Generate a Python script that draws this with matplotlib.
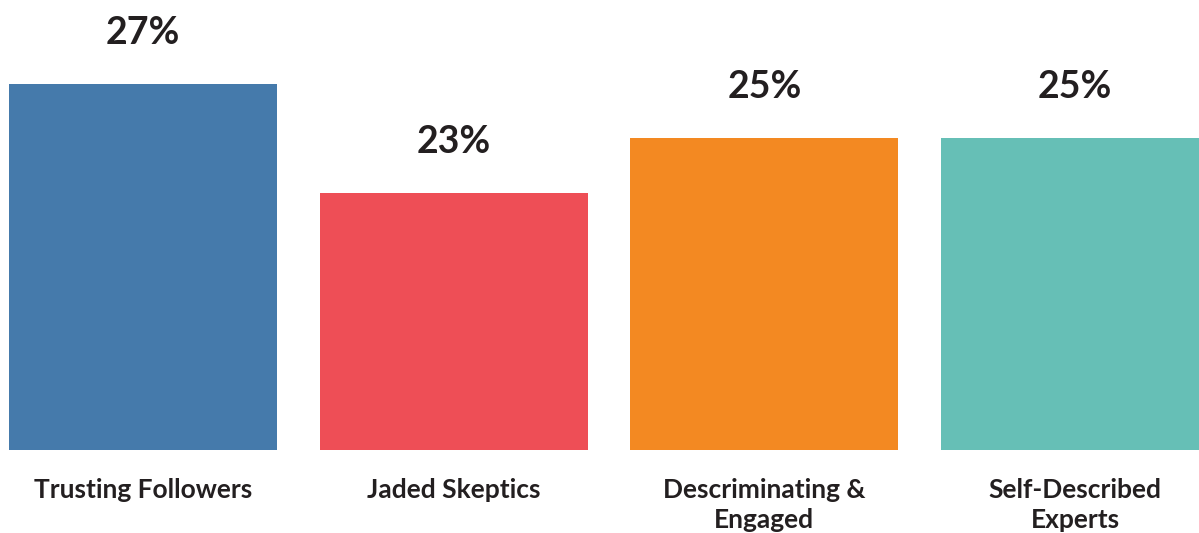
import matplotlib.pyplot as plt

# --- data ---
categories = ['Trusting Followers', 'Jaded Skeptics', 'Descriminating &\nEngaged', 'Self-Described\nExperts']
values = [27, 23, 25, 25]
colors = ['#457AAB', '#EE4E56', '#F38922', '#66BFB6']

text_color = '#231F20'
baseline = 13.56  # the original chart's bars start well above zero

fig = plt.figure(figsize=(11.99, 5.33), dpi=100)
ax = fig.add_axes([0, 0, 1, 1])

x = list(range(len(categories)))
heights = [v - baseline for v in values]
ax.bar(x, heights, bottom=baseline, width=0.8626, color=colors)

for xi, v, cat in zip(x, values, categories):
    ax.annotate(f'{v}%', (xi, v), xytext=(0, 37), textcoords='offset points',
                ha='center', va='center', fontsize=27, fontweight='bold',
                family='Lato', color=text_color)
    ax.annotate(cat, (xi, baseline), xytext=(0, -20), textcoords='offset points',
                ha='center', va='top', fontsize=19, fontweight='bold',
                family='Lato', color=text_color, linespacing=1.3)

ax.set_xlim(-0.460, 3.399)
ax.set_ylim(10.52, 30.08)
ax.axis('off')

fig.savefig('out.png', dpi=100)
